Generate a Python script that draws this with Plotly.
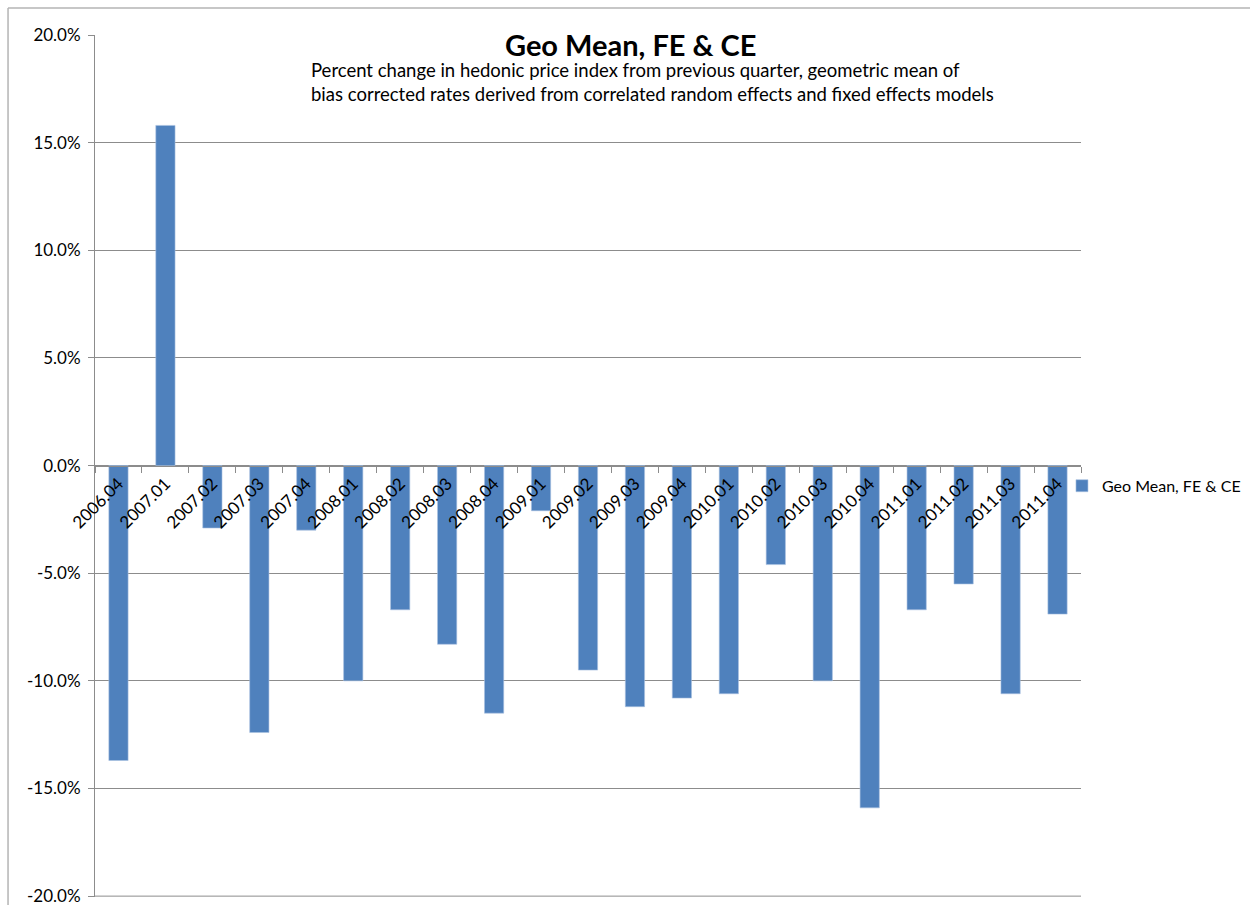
import plotly.graph_objects as go

# Quarter labels and percent change values
quarters = ["2006.04", "2007.01", "2007.02", "2007.03", "2007.04",
            "2008.01", "2008.02", "2008.03", "2008.04",
            "2009.01", "2009.02", "2009.03", "2009.04",
            "2010.01", "2010.02", "2010.03", "2010.04",
            "2011.01", "2011.02", "2011.03", "2011.04"]
pct_change = [-13.7, 15.8, -2.9, -12.4, -3.0,
              -10.0, -6.7, -8.3, -11.5,
              -2.1, -9.5, -11.2, -10.8,
              -10.6, -4.6, -10.0, -15.9,
              -6.7, -5.5, -10.6, -6.9]
y_ticks = [-20, -15, -10, -5, 0, 5, 10, 15, 20]
y_tick_text = ["-20.0%", "-15.0%", "-10.0%", "-5.0%", "0.0%", "5.0%", "10.0%", "15.0%", "20.0%"]

series_name = "Geo Mean, FE & CE"
title_text = "Geo Mean, FE & CE"
subtitle_text = ("Percent change in hedonic price index from previous quarter, geometric mean of<br>"
                 "bias corrected rates derived from correlated random effects and fixed effects models")

FONT = "Lato"
GRID = "#8c8c8c"
BAR = "#4F81BD"

fig = go.Figure()
fig.add_trace(go.Bar(
    x=quarters, y=pct_change, name=series_name,
    marker=dict(color=BAR, line=dict(color="#a9c1e0", width=0.6)),
    showlegend=True,
))

fig.update_layout(
    width=1250, height=905,
    margin=dict(l=95, r=169, t=35, b=8, autoexpand=False),
    paper_bgcolor="white", plot_bgcolor="white",
    font=dict(family=FONT, size=17, color="#000000"),
    bargap=0.59,
    showlegend=True,
    legend=dict(x=0.9807, y=0.477, xanchor="left", yanchor="middle",
                font=dict(family=FONT, size=16, color="#000000"),
                itemwidth=30, bgcolor="rgba(0,0,0,0)"),
    xaxis=dict(type="category", anchor="free", position=0.5,
               showline=True, linecolor=GRID, linewidth=1,
               ticks="outside", ticklen=6, tickcolor=GRID, tickson="boundaries",
               tickangle=-45, tickfont=dict(family=FONT, size=17, color="#000000"),
               showgrid=False, zeroline=False, automargin=False),
    yaxis=dict(range=[-20.04, 20.0], tickvals=y_ticks, ticktext=y_tick_text,
               showline=True, linecolor=GRID, linewidth=1,
               ticks="outside", ticklen=6, tickcolor=GRID, ticklabelstandoff=4,
               ticklabeloverflow="allow",
               showgrid=True, gridcolor=GRID, gridwidth=1, automargin=False,
               zeroline=False, tickfont=dict(family=FONT, size=17, color="#000000")),
)

# Bottom gridline at the lowest tick (sits on the plot edge)
fig.add_shape(type="line", xref="paper", yref="y", layer="below",
              x0=0, x1=1, y0=y_ticks[0], y1=y_ticks[0],
              line=dict(color=GRID, width=1))

# Chart title and descriptive subtitle
fig.add_annotation(text="<b>" + title_text + "</b>", xref="paper", yref="paper",
                   x=0.5426, y=0.9895, xanchor="center", yanchor="middle",
                   showarrow=False, font=dict(family=FONT, size=29, color="#000000"))
fig.add_annotation(text=subtitle_text, xref="paper", yref="paper",
                   x=0.2175, y=0.975, xanchor="left", yanchor="top", align="left",
                   showarrow=False, font=dict(family=FONT, size=18.5, color="#000000"))

# Chart area frame (top and left edges)
fig.add_shape(type="line", xref="paper", yref="paper",
              x0=-0.0882, x1=1.2, y0=1.0314, y1=1.0314,
              line=dict(color="#b4b4b4", width=1.5))
fig.add_shape(type="line", xref="paper", yref="paper",
              x0=-0.0882, x1=-0.0882, y0=1.0314, y1=-0.1,
              line=dict(color="#b4b4b4", width=1.5))

fig.write_html("out.html")
